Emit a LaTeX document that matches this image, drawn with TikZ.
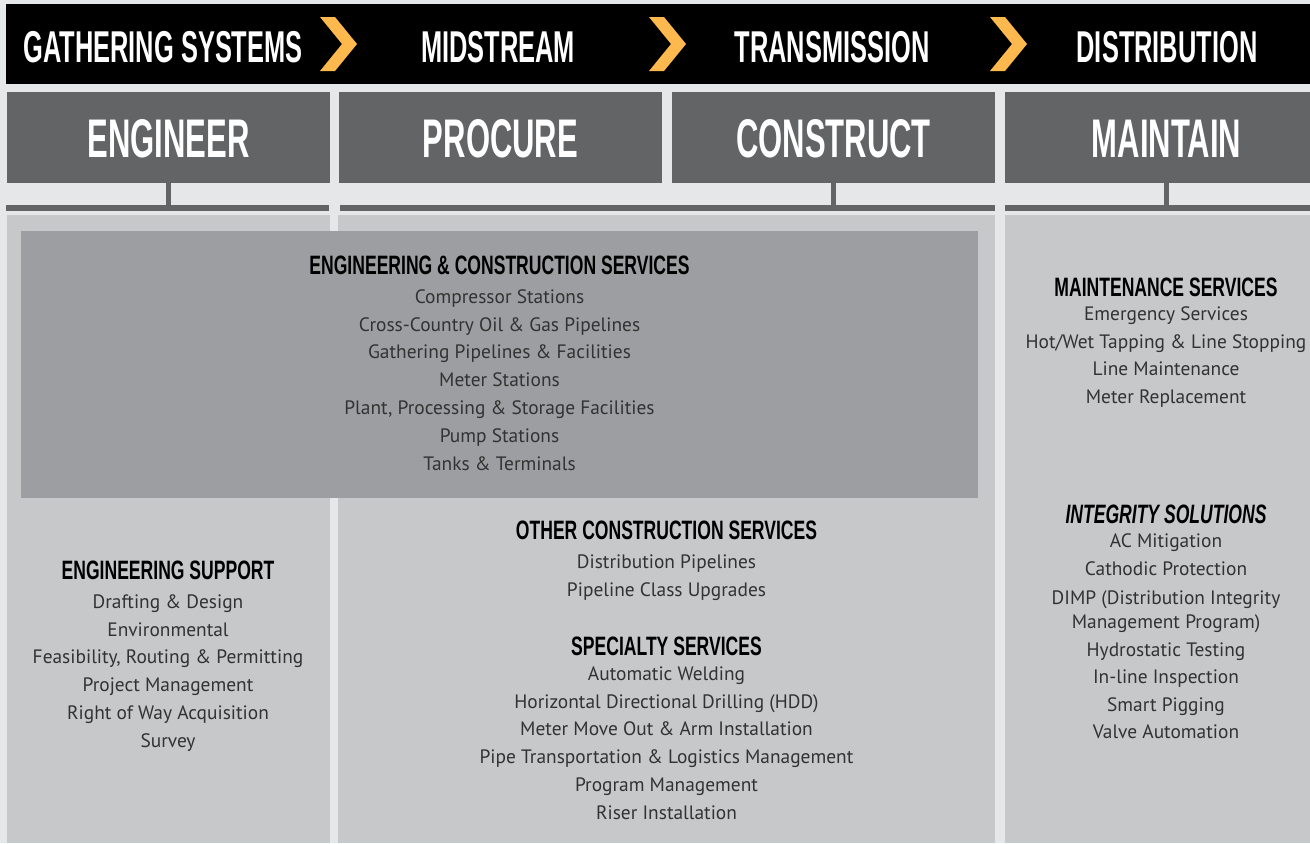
\documentclass[tikz,border=0pt]{standalone}
\usepackage{fontspec}
\usepackage{xcolor}
\setmainfont{PT Sans}
\newfontfamily\headfont[FakeStretch=0.57]{Liberation Sans}
\newfontfamily\secfont[FakeStretch=0.66]{Liberation Sans}

\definecolor{pagebg}{HTML}{E6E7E8}
\definecolor{stagegray}{HTML}{636466}
\definecolor{colbody}{HTML}{C7C8CA}
\definecolor{panelgray}{HTML}{9D9EA1}
\definecolor{chevron}{HTML}{FDB94D}
\definecolor{itemtext}{HTML}{333233}

\tikzset{
  flow/.style={text=white, font=\headfont\bfseries\fontsize{22.3}{24}\selectfont, anchor=base, inner sep=0pt},
  stage/.style={fill=stagegray, text=white, minimum width=161.5pt, minimum height=45.5pt, inner sep=0pt,
    font=\headfont\bfseries\fontsize{27.2}{30}\selectfont, text height=19.5pt, text depth=0pt},
  rulebar/.style={fill=stagegray, minimum height=3pt, inner sep=0pt},
  link/.style={draw=stagegray, line width=2.5pt},
  sectitle/.style={font=\secfont\bfseries\fontsize{13.3}{15}\selectfont, text=black, anchor=base, inner sep=0pt},
  item/.style={font=\fontsize{9.7}{11}\selectfont, text=itemtext, anchor=base, inner sep=0pt}
}

\begin{document}
\begin{tikzpicture}[x=0.5pt,y=-0.5pt]
\useasboundingbox (0,0) rectangle (1310,843);
\clip (0,0) rectangle (1310,843);
\fill[pagebg] (0,0) rectangle (1310,843);

% top flow bar
\fill[black] (6,4) rectangle (1330,84);
\foreach \cx in {320,649,990}
  \fill[chevron] (\cx,17) -- ++(15,0) -- ++(22,27) -- ++(-22,27) -- ++(-15,0) -- ++(22,-27) -- cycle;
\node[flow] (gath) at (163,62) {GATHERING SYSTEMS};
\node[flow] (mid) at (498,62) {MIDSTREAM};
\node[flow] (trans) at (832,62) {TRANSMISSION};
\node[flow] (dist) at (1167,62) {DISTRIBUTION};

% stages
\node[stage] (eng) at (168.5,137.5) {ENGINEER};
\node[stage] (proc) at (500.5,137.5) {PROCURE};
\node[stage] (cons) at (833.5,137.5) {CONSTRUCT};
\node[stage] (main) at (1166.5,137.5) {MAINTAIN};

\node[rulebar, minimum width=161.5pt] (bar1) at (167.5,208) {};
\node[rulebar, minimum width=327.5pt] (bar2) at (667.5,208) {};
\node[rulebar, minimum width=162.5pt] (bar3) at (1167.5,208) {};
\draw[link] (eng.south) -- (eng.south |- bar1.north);
\draw[link] (cons.south) -- (cons.south |- bar2.north);
\draw[link] (main.south) -- (main.south |- bar3.north);

% column bodies
\fill[colbody] (7,215) rectangle (330,843);
\fill[colbody] (338,215) rectangle (995,843);
\fill[colbody] (1005,215) rectangle (1330,843);
\fill[panelgray] (21,231) rectangle (978,498);

% engineering & construction
\node[sectitle] (ecs) at (499.5,274) {ENGINEERING \& CONSTRUCTION SERVICES};
\foreach \y/\t [count=\i] in {303/Compressor Stations, 331/Cross-Country Oil \& Gas Pipelines,
    358/Gathering Pipelines \& Facilities, 386/Meter Stations,
    414/{Plant, Processing \& Storage Facilities}, 442/Pump Stations, 470/Tanks \& Terminals}
  \node[item] (ecs-\i) at (499.5,\y) {\t};

% engineering support
\node[sectitle] (esup) at (168,579) {ENGINEERING SUPPORT};
\foreach \y/\t [count=\i] in {608/Drafting \& Design, 636/Environmental,
    663/{Feasibility, Routing \& Permitting}, 691/Project Management,
    719/Right of Way Acquisition, 747/Survey}
  \node[item] (esup-\i) at (168,\y) {\t};

% other construction
\node[sectitle] (ocs) at (666.5,539) {OTHER CONSTRUCTION SERVICES};
\foreach \y/\t [count=\i] in {568/Distribution Pipelines, 596/Pipeline Class Upgrades}
  \node[item] (ocs-\i) at (666.5,\y) {\t};

% specialty
\node[sectitle] (spec) at (666.5,655) {SPECIALTY SERVICES};
\foreach \y/\t [count=\i] in {680/Automatic Welding, 708/Horizontal Directional Drilling (HDD),
    735/Meter Move Out \& Arm Installation, 763/Pipe Transportation \& Logistics Management,
    791/Program Management, 819/Riser Installation}
  \node[item] (spec-\i) at (666.5,\y) {\t};

% maintenance
\node[sectitle] (mserv) at (1166,296) {MAINTENANCE SERVICES};
\foreach \y/\t [count=\i] in {320/Emergency Services, 348/{Hot/Wet Tapping \& Line Stopping},
    375/Line Maintenance, 403/Meter Replacement}
  \node[item] (mserv-\i) at (1166,\y) {\t};

% integrity
\node[sectitle, font=\secfont\bfseries\itshape\fontsize{13.3}{15}\selectfont] (integ) at (1166,523) {INTEGRITY SOLUTIONS};
\foreach \y/\t [count=\i] in {547/AC Mitigation, 575/Cathodic Protection,
    604/DIMP (Distribution Integrity, 628/Management Program), 656/Hydrostatic Testing,
    683/In-line Inspection, 711/Smart Pigging, 738/Valve Automation}
  \node[item] (integ-\i) at (1166,\y) {\t};
\end{tikzpicture}
\end{document}
